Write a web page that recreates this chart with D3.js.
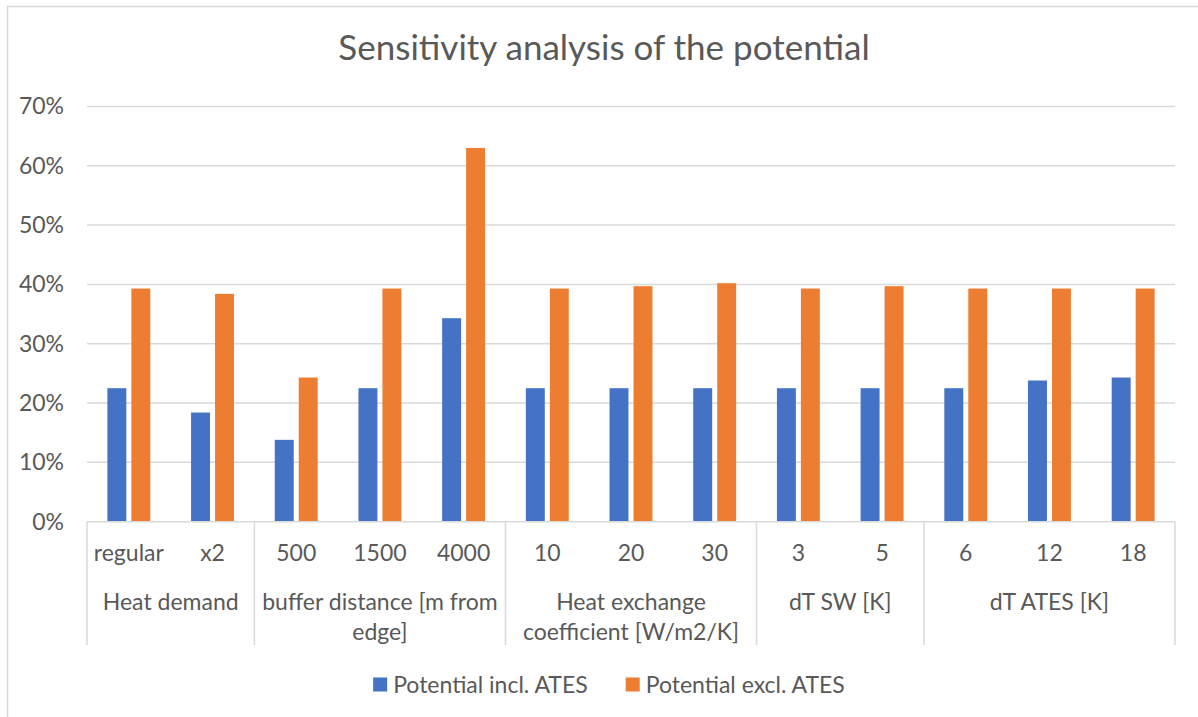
<!DOCTYPE html>
<html>
<head>
<meta charset="utf-8">
<script src="https://cdn.jsdelivr.net/npm/d3@7"></script>
<style>
body { margin: 0; background: #fff; }
text { font-family: Lato, "Noto Sans", sans-serif; fill: #595959; }
</style>
</head>
<body>
<div id="chart"></div>
<script>
// categories, grouped under a parameter
var categories = ["regular", "x2", "500", "1500", "4000", "10", "20", "30", "3", "5", "6", "12", "18"];
var groups = [
    {lines: ["Heat demand"], size: 2},
    {lines: ["buffer distance [m from", "edge]"], size: 3},
    {lines: ["Heat exchange", "coefficient [W/m2/K]"], size: 3},
    {lines: ["dT SW [K]"], size: 2},
    {lines: ["dT ATES [K]"], size: 3}
];
var seriesNames = ["Potential incl. ATES", "Potential excl. ATES"];
var inclAtes = [0.225, 0.184, 0.138, 0.225, 0.343, 0.225, 0.225, 0.225, 0.225, 0.225, 0.225, 0.238, 0.243];
var exclAtes = [0.393, 0.384, 0.243, 0.393, 0.630, 0.393, 0.397, 0.402, 0.393, 0.397, 0.393, 0.393, 0.393];
var yTicks = [0, 0.1, 0.2, 0.3, 0.4, 0.5, 0.6, 0.7];
var colors = ["#4472C4", "#ED7D31"];

var width = 1198, height = 717;
var margin = {left: 87, right: 23, top: 106.4, bottom: 195.3};
var fontSize = "23px";

var svg = d3.select("#chart").append("svg")
    .attr("width", width)
    .attr("height", height);

// chart border (only top and left show in the picture)
svg.append("path")
    .attr("d", "M7.5," + height + "V6.5H" + width)
    .attr("fill", "none")
    .attr("stroke", "#D9D9D9")
    .attr("stroke-width", 1.5);

var x0 = d3.scaleBand()
    .domain(categories)
    .range([margin.left, width - margin.right]);

var x1 = d3.scaleBand()
    .domain(seriesNames)
    .range([0, x0.bandwidth()])
    .paddingInner(0.21)
    .paddingOuter(0.85);

var y = d3.scaleLinear()
    .domain([0, 0.7])
    .range([height - margin.bottom, margin.top]);

// gridlines
svg.append("g")
    .selectAll("line")
    .data(yTicks.filter(function(d) { return d > 0; }))
    .enter()
    .append("line")
    .attr("x1", margin.left)
    .attr("x2", width - margin.right)
    .attr("y1", function(d) { return y(d); })
    .attr("y2", function(d) { return y(d); })
    .attr("stroke", "#D9D9D9")
    .attr("stroke-width", 1.5);

// y labels
svg.append("g")
    .selectAll("text")
    .data(yTicks)
    .enter()
    .append("text")
    .attr("x", 64)
    .attr("y", function(d) { return y(d); })
    .attr("dy", "0.35em")
    .attr("text-anchor", "end")
    .style("font-size", fontSize)
    .text(d3.format(".0%"));

// bars
var rows = categories.map(function(c, i) {
    return {cat: c, values: [inclAtes[i], exclAtes[i]]};
});

var catG = svg.append("g")
    .selectAll("g")
    .data(rows)
    .enter()
    .append("g")
    .attr("transform", function(d) { return "translate(" + x0(d.cat) + ",0)"; });

catG.selectAll("rect")
    .data(function(d) {
        return d.values.map(function(v, j) { return {name: seriesNames[j], value: v, k: j}; });
    })
    .enter()
    .append("rect")
    .attr("x", function(d) { return x1(d.name); })
    .attr("width", x1.bandwidth())
    .attr("y", function(d) { return y(d.value); })
    .attr("height", function(d) { return y(0) - y(d.value); })
    .attr("fill", function(d) { return colors[d.k]; });

// category axis
var y0 = y(0);
var tickBottom = 645;
svg.append("line")
    .attr("x1", margin.left)
    .attr("x2", width - margin.right)
    .attr("y1", y0)
    .attr("y2", y0)
    .attr("stroke", "#D9D9D9")
    .attr("stroke-width", 1.5);

svg.append("g")
    .selectAll("text")
    .data(categories)
    .enter()
    .append("text")
    .attr("x", function(d) { return x0(d) + x0.bandwidth() / 2; })
    .attr("y", 553)
    .attr("dy", "0.35em")
    .attr("text-anchor", "middle")
    .style("font-size", fontSize)
    .text(function(d) { return d; });

// group spans
var start = 0;
groups.forEach(function(g) {
    g.start = start;
    start += g.size;
});

var bounds = groups.map(function(g) { return g.start; }).concat([categories.length]);
svg.append("g")
    .selectAll("line")
    .data(bounds)
    .enter()
    .append("line")
    .attr("x1", function(i) { return i < categories.length ? x0(categories[i]) : x0.range()[1]; })
    .attr("x2", function(i) { return i < categories.length ? x0(categories[i]) : x0.range()[1]; })
    .attr("y1", y0)
    .attr("y2", tickBottom)
    .attr("stroke", "#D9D9D9")
    .attr("stroke-width", 1.5);

var groupText = svg.append("g")
    .selectAll("text")
    .data(groups)
    .enter()
    .append("text")
    .attr("text-anchor", "middle")
    .style("font-size", fontSize)
    .attr("transform", function(g) {
        var left = x0(categories[g.start]);
        var right = left + g.size * x0.step();
        return "translate(" + (left + right) / 2 + ",602)";
    });

groupText.selectAll("tspan")
    .data(function(g) { return g.lines; })
    .enter()
    .append("tspan")
    .attr("x", 0)
    .attr("y", function(d, i) { return i * 30; })
    .attr("dy", "0.35em")
    .text(function(d) { return d; });

// title
svg.append("text")
    .attr("x", 604)
    .attr("y", 48)
    .attr("dy", "0.35em")
    .attr("text-anchor", "middle")
    .style("font-size", "35px")
    .text("Sensitivity analysis of the potential");

// legend
var legendItems = svg.append("g")
    .selectAll("g")
    .data(seriesNames)
    .enter()
    .append("g");

legendItems.append("rect")
    .attr("width", 14)
    .attr("height", 14)
    .attr("y", -7)
    .attr("fill", function(d, i) { return colors[i]; });

legendItems.append("text")
    .attr("x", 20)
    .attr("dy", "0.35em")
    .style("font-size", fontSize)
    .text(function(d) { return d; });

var widths = legendItems.nodes().map(function(n) { return n.getBBox().width; });
var gap = 38;
var total = d3.sum(widths) + gap * (widths.length - 1);
var lx = 609 - total / 2;
legendItems.attr("transform", function(d, i) {
    var t = "translate(" + lx + ",684.5)";
    lx += widths[i] + gap;
    return t;
});
</script>
</body>
</html>
